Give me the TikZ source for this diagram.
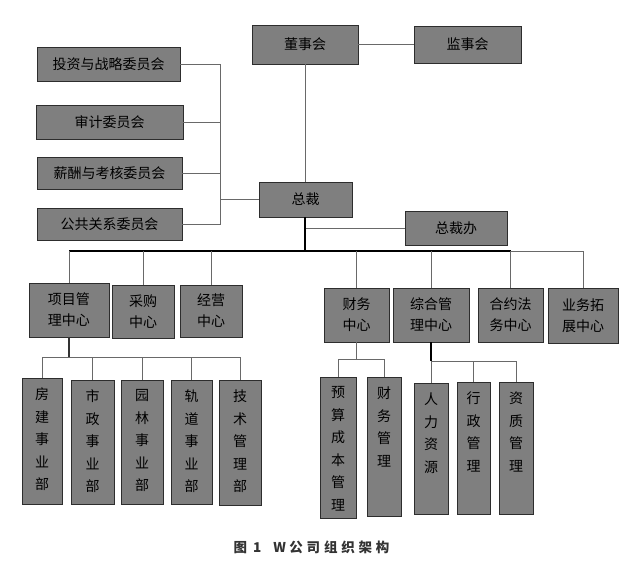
\documentclass[tikz,border=0pt]{standalone}
\usepackage{fontspec}
\newfontfamily\cjk{Noto Sans CJK SC}
\definecolor{boxfill}{RGB}{127,127,127}
\definecolor{boxline}{RGB}{45,45,45}
\definecolor{conn}{RGB}{105,105,105}
\newcommand{\cs}{\hspace{3.8pt}}
\tikzset{
  box/.style={draw=boxline, fill=boxfill, line width=0.8pt, inner sep=0pt,
    font=\cjk\fontsize{14}{21}\selectfont, align=center, text=black},
  vtext/.style={anchor=north, yshift=-10pt, align=center, inner sep=0pt,
    font=\cjk\fontsize{14}{22.5}\selectfont, text=black},
  link/.style={draw=conn, line width=0.8pt},
  mainlink/.style={draw=black, line width=1.4pt},
}
\begin{document}
\begin{tikzpicture}[x=1pt,y=-1pt]
\useasboundingbox (0,0) rectangle (633,563);
% top level
\node[box, minimum width=106pt, minimum height=39pt] (board) at (305,44.5) {董事会};
\node[box, minimum width=107pt, minimum height=37pt] (sup) at (467.5,44.5) {监事会};
\node[box, minimum width=93pt, minimum height=35pt] (ceo) at (305.5,199.5) {总裁};
\node[box, minimum width=102pt, minimum height=34pt] (off) at (456,228) {总裁办};
% committees
\node[box, minimum width=143pt, minimum height=34pt] (inv) at (108.5,64) {投资与战略委员会};
\node[box, minimum width=147pt, minimum height=34pt] (aud) at (109.5,122) {审计委员会};
\node[box, minimum width=145pt, minimum height=32pt] (sal) at (109.5,173) {薪酬与考核委员会};
\node[box, minimum width=145pt, minimum height=32pt] (pr) at (109.5,224) {公共关系委员会};
% centres
\node[box, minimum width=80pt, minimum height=54pt] (pm) at (69,310) {项目管\\理中心};
\node[box, minimum width=62pt, minimum height=53pt] (pur) at (143,311.5) {采购\\中心};
\node[box, minimum width=62pt, minimum height=52pt] (biz) at (211,311) {经营\\中心};
\node[box, minimum width=65pt, minimum height=54pt] (fin) at (356.5,315) {财务\\中心};
\node[box, minimum width=76pt, minimum height=54pt] (gen) at (431,315) {综合管\\理中心};
\node[box, minimum width=65pt, minimum height=54pt] (leg) at (510.5,315) {合约法\\务中心};
\node[box, minimum width=70pt, minimum height=55pt] (dev) at (583,315.5) {业务拓\\展中心};
% departments
\node[box, minimum width=40pt, minimum height=126pt, label={[vtext]north:{房\\建\\事\\业\\部}}] (b1) at (42,441) {};
\node[box, minimum width=43pt, minimum height=124pt, label={[vtext]north:{市\\政\\事\\业\\部}}] (b2) at (92.5,442) {};
\node[box, minimum width=42pt, minimum height=124pt, label={[vtext]north:{园\\林\\事\\业\\部}}] (b3) at (142,442) {};
\node[box, minimum width=41pt, minimum height=124pt, label={[vtext]north:{轨\\道\\事\\业\\部}}] (b4) at (191.5,442) {};
\node[box, minimum width=42pt, minimum height=125pt, label={[vtext]north:{技\\术\\管\\理\\部}}] (b5) at (240,442.5) {};
\node[box, minimum width=36pt, minimum height=141pt, label={[vtext]north:{预\\算\\成\\本\\管\\理}}] (f1) at (338,447.5) {};
\node[box, minimum width=34pt, minimum height=139pt, label={[vtext]north:{财\\务\\管\\理}}] (f2) at (384,446.5) {};
\node[box, minimum width=34pt, minimum height=131pt, label={[vtext]north:{人\\力\\资\\源}}] (g1) at (431,448.5) {};
\node[box, minimum width=33pt, minimum height=132pt, label={[vtext]north:{行\\政\\管\\理}}] (g2) at (473.5,448) {};
\node[box, minimum width=34pt, minimum height=132pt, label={[vtext]north:{资\\质\\管\\理}}] (g3) at (516,448) {};
% caption
\node[font=\cjk\bfseries\fontsize{13.5}{15}\selectfont, text=black!80, inner sep=0pt] (cap) at (311.5,547) {图\hspace{6pt}1\hspace{12pt}W\hspace{3.5pt}公\cs 司\cs 组\cs 织\cs 架\cs 构};
% connectors top
\path[link] (board.east) -- (sup.west);
\path[link] (board.south) -- (board.south |- ceo.north);
\coordinate (cb) at (220,199.5);
\path[link] (inv.east) -| (cb);
\path[link] (pr.east) -| (cb);
\path[link] (aud.east) -- (aud.east -| cb);
\path[link] (sal.east) -- (sal.east -| cb);
\path[link] (cb) -- (ceo.west);
\path[link] (off.west) -- (off.west -| ceo.south);
% main bus
\coordinate (bus) at (305,251);
\path[mainlink] (ceo.south -| bus) -- (bus);
\path[draw=black, line width=1.1pt] (pm.north |- bus) -- (leg.north |- bus);
\path[link] (leg.north |- bus) -- (dev.north |- bus);
\foreach \n in {pm,pur,biz,fin,gen,leg,dev}
  \path[link] (\n.north |- bus) -- (\n.north);
% sub buses
\coordinate (pb) at (69,357);
\path[draw=black!80, line width=1.1pt] (pm.south) -- (pb);
\path[link] (b1.north |- pb) -- (b5.north |- pb);
\foreach \n in {b1,b2,b3,b4,b5}
  \path[link] (\n.north |- pb) -- (\n.north);
\coordinate (fb) at (356.5,359);
\path[link] (fin.south) -- (fb);
\path[link] (f1.north |- fb) -- (f2.north |- fb);
\foreach \n in {f1,f2}
  \path[link] (\n.north |- fb) -- (\n.north);
\coordinate (gb) at (431,361);
\path[draw=black, line width=1.1pt] (gen.south) -- (gb);
\path[link] (gb) -- (g3.north |- gb);
\foreach \n in {g1,g2,g3}
  \path[link] (\n.north |- gb) -- (\n.north);
\end{tikzpicture}
\end{document}
